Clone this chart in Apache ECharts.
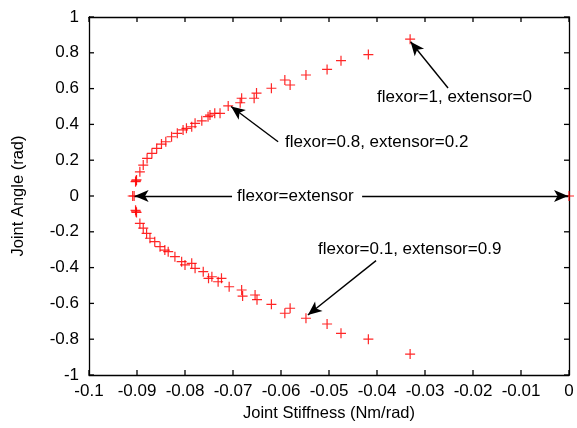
<!DOCTYPE html>
<html>
<head>
<meta charset="utf-8">
<script src="https://cdn.jsdelivr.net/npm/echarts@6/dist/echarts.min.js"></script>
<style>
  html, body { margin: 0; padding: 0; background: #fff; }
  #chart { width: 577px; height: 428px; }
</style>
</head>
<body>
<div id="chart"></div>
<script>
// upper branch (flexor > extensor): [stiffness, angle]
const upper = [
  [-0.0909, 0], [-0.0906, 0],
  [-0.0903, 0.080], [-0.0901, 0.090], [-0.0902, 0.085],
  [-0.0894, 0.135], [-0.0887, 0.173], [-0.0879, 0.210], [-0.0869, 0.238],
  [-0.0859, 0.266], [-0.0849, 0.290], [-0.0840, 0.303], [-0.0828, 0.331],
  [-0.0816, 0.350], [-0.0804, 0.369], [-0.0797, 0.378], [-0.0786, 0.387],
  [-0.0779, 0.406], [-0.0765, 0.420], [-0.0752, 0.443], [-0.0748, 0.452],
  [-0.0738, 0.462], [-0.0727, 0.462], [-0.0710, 0.503], [-0.0685, 0.521],
  [-0.0682, 0.546], [-0.0656, 0.546], [-0.0651, 0.575], [-0.0620, 0.602],
  [-0.0592, 0.648], [-0.0581, 0.620], [-0.0548, 0.676], [-0.0504, 0.707],
  [-0.0475, 0.756], [-0.0418, 0.790], [-0.0331, 0.876]
];
// lower branch (extensor > flexor)
const lower = [
  [-0.0903, -0.080], [-0.0901, -0.092], [-0.0902, -0.088],
  [-0.0894, -0.153], [-0.0887, -0.180], [-0.0880, -0.209], [-0.0873, -0.236],
  [-0.0863, -0.255], [-0.0852, -0.283], [-0.0842, -0.302], [-0.0835, -0.311],
  [-0.0821, -0.339], [-0.0807, -0.367], [-0.0800, -0.385], [-0.0786, -0.376],
  [-0.0779, -0.404], [-0.0762, -0.423], [-0.0751, -0.460], [-0.0744, -0.451],
  [-0.0731, -0.479], [-0.0724, -0.460], [-0.0708, -0.507], [-0.0682, -0.525],
  [-0.0680, -0.559], [-0.0654, -0.553], [-0.0650, -0.579], [-0.0620, -0.605],
  [-0.0592, -0.655], [-0.0581, -0.627], [-0.0548, -0.683], [-0.0504, -0.715],
  [-0.0475, -0.767], [-0.0418, -0.800], [-0.0331, -0.883]
];
// equal activation point at zero stiffness
const balanced = [[0, 0]];

// tick positions (gnuplot style: inward, mirrored on all four sides)
const xTicks = [-0.1, -0.09, -0.08, -0.07, -0.06, -0.05, -0.04, -0.03, -0.02, -0.01, 0];
const yTicks = [-1, -0.8, -0.6, -0.4, -0.2, 0, 0.2, 0.4, 0.6, 0.8, 1];

// annotation arrows: [from, to] in data coords
const arrows = [
  [[-0.0252, 0.603], [-0.0330, 0.862]],
  [[-0.0606, 0.303], [-0.0704, 0.500]],
  [[-0.0702, 0], [-0.0905, 0]],
  [[-0.0431, 0], [-0.0002, 0]],
  [[-0.0402, -0.361], [-0.0544, -0.665]]
];
// annotation texts: [text, left px, center y px]
const notes = [
  ['flexor=1, extensor=0', 377, 98],
  ['flexor=0.8, extensor=0.2', 285, 143],
  ['flexor=extensor', 237, 197],
  ['flexor=0.1, extensor=0.9', 318, 250]
];

const FONT = "'Liberation Sans', Arial, sans-serif";
const PLUS = 'path://M4.4,0H5.6V4.4H10V5.6H5.6V10H4.4V5.6H0V4.4H4.4Z';
const fmt = v => String(+v.toFixed(2));
const TICK = 5;
const X_MIN = -0.1, X_MAX = 0, Y_MIN = -1, Y_MAX = 1;

const chart = echarts.init(document.getElementById('chart'));

function frameAxis(extra) {
  return Object.assign({
    type: 'value',
    axisLine: { show: true, onZero: false, lineStyle: { color: '#000', width: 1.3 } },
    axisTick: { show: false },
    splitLine: { show: false }
  }, extra);
}

function tickLine(x1, y1, x2, y2) {
  return { type: 'line', shape: { x1, y1, x2, y2 }, style: { stroke: '#000', lineWidth: 1.3 } };
}

chart.setOption({
  animation: false,
  grid: { left: 89, right: 8, top: 17, bottom: 53 },
  xAxis: [
    frameAxis({
      min: X_MIN, max: X_MAX, interval: 0.01,
      name: 'Joint Stiffness (Nm/rad)', nameLocation: 'middle', nameGap: 26,
      nameTextStyle: { fontFamily: FONT, fontSize: 16.5, color: '#000' },
      axisLabel: { formatter: fmt, margin: 8, fontFamily: FONT, fontSize: 17, color: '#000' }
    }),
    frameAxis({ position: 'top', min: X_MIN, max: X_MAX, interval: 0.01, axisLabel: { show: false } })
  ],
  yAxis: [
    frameAxis({
      min: Y_MIN, max: Y_MAX, interval: 0.2,
      name: 'Joint Angle (rad)', nameLocation: 'middle', nameGap: 62,
      nameTextStyle: { fontFamily: FONT, fontSize: 16.5, color: '#000' },
      axisLabel: { formatter: fmt, margin: 10, fontFamily: FONT, fontSize: 17, color: '#000' }
    }),
    frameAxis({ position: 'right', min: Y_MIN, max: Y_MAX, interval: 0.2, axisLabel: { show: false } })
  ],
  series: [
    {
      // x ticks, bottom and top edges
      type: 'custom', silent: true, clip: false,
      data: xTicks.map(v => [v, 0]),
      renderItem: (params, api) => {
        const b = api.coord([api.value(0), Y_MIN]);
        const t = api.coord([api.value(0), Y_MAX]);
        return { type: 'group', children: [
          tickLine(b[0], b[1], b[0], b[1] - TICK),
          tickLine(t[0], t[1], t[0], t[1] + TICK)
        ] };
      }
    },
    {
      // y ticks, left and right edges
      type: 'custom', silent: true, clip: false,
      data: yTicks.map(v => [X_MIN, v]),
      renderItem: (params, api) => {
        const l = api.coord([X_MIN, api.value(1)]);
        const r = api.coord([X_MAX, api.value(1)]);
        return { type: 'group', children: [
          tickLine(l[0], l[1], l[0] + TICK, l[1]),
          tickLine(r[0], r[1], r[0] - TICK, r[1])
        ] };
      }
    },
    {
      type: 'scatter', data: upper, symbol: PLUS, symbolSize: 10,
      itemStyle: { color: '#ff0000', opacity: 0.85 }, silent: true
    },
    {
      type: 'scatter', data: lower, symbol: PLUS, symbolSize: 10,
      itemStyle: { color: '#ff0000', opacity: 0.85 }, silent: true
    },
    {
      type: 'scatter', data: balanced, symbol: PLUS, symbolSize: 10,
      itemStyle: { color: '#ff0000', opacity: 0.85 }, silent: true,
      markLine: {
        silent: true,
        symbol: ['none', 'arrow'],
        symbolSize: [9, 14],
        label: { show: false },
        lineStyle: { color: '#000', width: 1.4, type: 'solid' },
        data: arrows.map(a => [{ coord: a[0] }, { coord: a[1] }])
      }
    }
  ],
  graphic: notes.map(n => ({
    type: 'text', left: n[1], top: n[2] - 9,
    style: { text: n[0], font: '17px ' + FONT, fill: '#000' }
  }))
});
</script>
</body>
</html>
